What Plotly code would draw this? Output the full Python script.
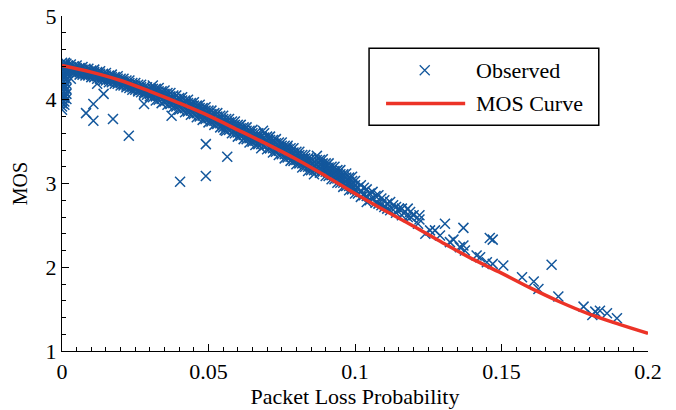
import plotly.graph_objects as go

# ---------------- data ----------------
# fitted MOS curve
curve_x = [0.0, 0.01, 0.02, 0.03, 0.04, 0.05, 0.06, 0.07, 0.08, 0.09, 0.10,
           0.11, 0.12, 0.13, 0.14, 0.15, 0.16, 0.17, 0.18, 0.19, 0.20]
curve_y = [4.41, 4.33, 4.23, 4.10, 3.96, 3.81, 3.64, 3.47, 3.29, 3.09, 2.88,
           2.68, 2.49, 2.29, 2.10, 1.93, 1.75, 1.585, 1.44, 1.32, 1.21]

# observed points at zero loss
zero_x = [0.0] * 14 + [0.0008] * 13 + [0.0015] * 8
zero_y = [4.44, 4.40, 4.36, 4.32, 4.28, 4.24, 4.20, 4.16, 4.12, 4.08, 4.04, 4.00, 3.96, 3.92,
          4.42, 4.38, 4.34, 4.30, 4.26, 4.22, 4.18, 4.14, 4.10, 4.06, 4.02, 3.98, 3.94,
          4.43, 4.37, 4.31, 4.25, 4.19, 4.13, 4.07, 4.01]

# dense band of observations, even positions (x shared by four rows)
band_x = [0.002, 0.004, 0.006, 0.008, 0.010, 0.012, 0.014, 0.016, 0.018, 0.020,
          0.022, 0.024, 0.026, 0.028, 0.030, 0.032, 0.034, 0.036, 0.038, 0.040,
          0.042, 0.044, 0.046, 0.048, 0.050, 0.052, 0.054, 0.056, 0.058, 0.060,
          0.062, 0.064, 0.066, 0.068, 0.070, 0.072, 0.074, 0.076, 0.078, 0.080,
          0.082, 0.084, 0.086, 0.088, 0.090, 0.092, 0.094, 0.096, 0.098, 0.100]
band_row1 = [4.41, 4.40, 4.38, 4.37, 4.35, 4.33, 4.31, 4.29, 4.27, 4.25,
             4.23, 4.20, 4.18, 4.15, 4.12, 4.13, 4.10, 4.08, 4.05, 4.02,
             3.99, 3.96, 3.93, 3.90, 3.87, 3.84, 3.81, 3.77, 3.74, 3.70,
             3.67, 3.63, 3.60, 3.56, 3.56, 3.52, 3.49, 3.45, 3.42, 3.38,
             3.34, 3.30, 3.26, 3.28, 3.24, 3.20, 3.16, 3.11, 3.07, 3.03]
band_row2 = [4.38, 4.37, 4.35, 4.34, 4.32, 4.30, 4.28, 4.26, 4.24, 4.22,
             4.20, 4.17, 4.15, 4.12, 4.09, 4.09, 4.06, 4.04, 4.01, 3.98,
             3.95, 3.92, 3.89, 3.86, 3.83, 3.80, 3.77, 3.73, 3.70, 3.66,
             3.63, 3.59, 3.56, 3.52, 3.51, 3.47, 3.44, 3.40, 3.37, 3.33,
             3.29, 3.25, 3.21, 3.23, 3.19, 3.15, 3.11, 3.06, 3.02, 2.98]
band_row3 = [4.36, 4.34, 4.33, 4.31, 4.30, 4.28, 4.26, 4.24, 4.22, 4.20,
             4.17, 4.15, 4.12, 4.09, 4.07, 4.04, 4.01, 3.99, 3.96, 3.93,
             3.90, 3.87, 3.84, 3.81, 3.78, 3.75, 3.72, 3.68, 3.65, 3.61,
             3.58, 3.54, 3.51, 3.47, 3.46, 3.42, 3.39, 3.35, 3.32, 3.28,
             3.24, 3.20, 3.16, 3.18, 3.14, 3.10, 3.06, 3.01, 2.97, 2.93]
band_row4 = [4.33, 4.32, 4.30, 4.29, 4.27, 4.25, 4.23, 4.21, 4.19, 4.17,
             4.15, 4.12, 4.10, 4.07, 4.04, 3.99, 3.96, 3.94, 3.91, 3.88,
             3.85, 3.82, 3.79, 3.76, 3.73, 3.70, 3.67, 3.63, 3.60, 3.56,
             3.53, 3.49, 3.46, 3.42, 3.41, 3.37, 3.34, 3.30, 3.27, 3.23,
             3.19, 3.15, 3.11, 3.13, 3.09, 3.05, 3.01, 2.96, 2.92, 2.88]

# dense band, odd positions (x shared by four rows)
band2_x = [0.001, 0.003, 0.005, 0.007, 0.009, 0.011, 0.013, 0.015, 0.017, 0.019,
           0.021, 0.023, 0.025, 0.027, 0.029, 0.031, 0.033, 0.035, 0.037, 0.039,
           0.041, 0.043, 0.045, 0.047, 0.049, 0.051, 0.053, 0.055, 0.057, 0.059,
           0.061, 0.063, 0.065, 0.067, 0.069, 0.071, 0.073, 0.075, 0.077, 0.079,
           0.081, 0.083, 0.085, 0.087, 0.089, 0.091, 0.093, 0.095, 0.097, 0.099]
band2_row1 = [4.44, 4.42, 4.41, 4.39, 4.37, 4.36, 4.34, 4.32, 4.30, 4.28,
              4.25, 4.23, 4.20, 4.18, 4.15, 4.17, 4.14, 4.11, 4.08, 4.05,
              4.03, 4.00, 3.97, 3.94, 3.91, 3.87, 3.84, 3.81, 3.77, 3.74,
              3.70, 3.67, 3.64, 3.60, 3.60, 3.56, 3.53, 3.49, 3.45, 3.42,
              3.38, 3.34, 3.30, 3.33, 3.29, 3.24, 3.20, 3.16, 3.12, 3.08]
band2_row2 = [4.41, 4.39, 4.38, 4.36, 4.34, 4.33, 4.31, 4.29, 4.27, 4.25,
              4.22, 4.20, 4.17, 4.15, 4.12, 4.13, 4.10, 4.07, 4.04, 4.01,
              3.99, 3.96, 3.93, 3.90, 3.87, 3.83, 3.80, 3.77, 3.73, 3.70,
              3.66, 3.63, 3.60, 3.56, 3.55, 3.52, 3.48, 3.45, 3.41, 3.37,
              3.34, 3.30, 3.26, 3.28, 3.24, 3.19, 3.15, 3.11, 3.07, 3.03]
band2_row3 = [4.38, 4.36, 4.35, 4.33, 4.31, 4.30, 4.28, 4.26, 4.24, 4.22,
              4.19, 4.17, 4.14, 4.12, 4.09, 4.08, 4.05, 4.03, 4.00, 3.97,
              3.94, 3.91, 3.88, 3.85, 3.82, 3.79, 3.76, 3.72, 3.69, 3.65,
              3.62, 3.58, 3.55, 3.52, 3.50, 3.47, 3.43, 3.40, 3.36, 3.32,
              3.29, 3.25, 3.21, 3.23, 3.19, 3.14, 3.10, 3.06, 3.02, 2.98]
band2_row4 = [4.35, 4.34, 4.32, 4.30, 4.29, 4.27, 4.25, 4.23, 4.21, 4.19,
              4.17, 4.14, 4.12, 4.09, 4.06, 4.03, 4.00, 3.98, 3.95, 3.92,
              3.89, 3.86, 3.83, 3.80, 3.77, 3.74, 3.71, 3.67, 3.64, 3.60,
              3.57, 3.53, 3.50, 3.47, 3.45, 3.42, 3.38, 3.35, 3.31, 3.27,
              3.24, 3.20, 3.16, 3.18, 3.14, 3.09, 3.05, 3.01, 2.97, 2.93]

# thinner region and tail
tail_x = [0.101, 0.101, 0.102, 0.102, 0.102, 0.103, 0.103, 0.104, 0.104, 0.104,
          0.105, 0.105, 0.106, 0.106, 0.107, 0.107, 0.108, 0.108, 0.109, 0.109,
          0.110, 0.110, 0.111, 0.111, 0.112, 0.112, 0.113, 0.114, 0.114, 0.115,
          0.116, 0.116, 0.117, 0.118, 0.118, 0.119, 0.120,
          0.1188, 0.1215, 0.122, 0.122, 0.124, 0.1256, 0.1273, 0.129, 0.1307,
          0.1324, 0.1336, 0.1358, 0.137, 0.137, 0.1375, 0.1415, 0.1427, 0.145, 0.146,
          0.147, 0.147, 0.1506, 0.157, 0.161, 0.1626, 0.1671, 0.1694, 0.178, 0.181,
          0.182, 0.1836, 0.186, 0.1894]
tail_y = [2.95, 2.88, 2.98, 2.90, 2.84, 2.95, 2.86, 2.93, 2.85, 2.78,
          2.88, 2.80, 2.90, 2.82, 2.85, 2.77, 2.86, 2.76, 2.82, 2.74,
          2.80, 2.72, 2.76, 2.70, 2.78, 2.68, 2.74, 2.72, 2.65, 2.70,
          2.70, 2.62, 2.66, 2.70, 2.60, 2.60, 2.62,
          2.66, 2.52, 2.57, 2.62, 2.40, 2.44, 2.44, 2.38, 2.52,
          2.30, 2.33, 2.24, 2.47, 2.26, 2.20, 2.14, 2.12, 2.06, 2.35,
          2.33, 2.04, 2.02, 1.88, 1.83, 1.74, 2.03, 1.65, 1.53, 1.43,
          1.47, 1.48, 1.45, 1.39]

# scattered low outliers
out_x = [0.0, 0.0082, 0.0107, 0.0107, 0.0142, 0.0174, 0.0228, 0.028, 0.0374, 0.0403,
         0.0491, 0.0491, 0.0564, 0.003, 0.012, 0.0555, 0.0686, 0.0768]
out_y = [3.88, 3.84, 3.95, 3.75, 4.07, 3.77, 3.57, 3.95, 3.81, 3.02,
         3.47, 3.09, 3.32, 4.25, 4.19, 3.64, 3.63, 3.43]

x_ticks = [0, 0.05, 0.1, 0.15, 0.2]
x_tick_text = ["0", "0.05", "0.1", "0.15", "0.2"]
y_ticks = [1, 2, 3, 4, 5]
y_tick_text = ["1", "2", "3", "4", "5"]

series_names = ["Observed", "MOS Curve"]

# ---------------- figure ----------------
BLUE = "#13579c"
RED = "#ec3327"
FONT = "Liberation Serif, Times New Roman, serif"

obs_x = (zero_x + band_x * 4 + band2_x * 4 + tail_x + out_x)
obs_y = (zero_y + band_row1 + band_row2 + band_row3 + band_row4
         + band2_row1 + band2_row2 + band2_row3 + band2_row4 + tail_y + out_y)

fig = go.Figure()
fig.add_trace(go.Scatter(
    x=obs_x, y=obs_y, mode="markers", name=series_names[0],
    marker=dict(symbol="x-thin", size=10, line=dict(width=1.5, color=BLUE)),
    showlegend=False,
))
fig.add_trace(go.Scatter(
    x=curve_x, y=curve_y, mode="lines", name=series_names[1],
    line=dict(color=RED, width=3.5, shape="spline"),
    showlegend=False,
))
# legend marker on an overlay axis spanning the plot area (0..1)
fig.add_trace(go.Scatter(
    x=[0.619], y=[0.838], xaxis="x2", yaxis="y2", mode="markers",
    marker=dict(symbol="x-thin", size=10, line=dict(width=1.3, color=BLUE)),
    showlegend=False, hoverinfo="skip",
))

axis_common = dict(
    showline=True, linecolor="black", linewidth=1.3,
    ticks="inside", ticklen=7, tickwidth=1.2, tickcolor="black",
    showgrid=False, zeroline=False, mirror=False, automargin=False,
    ticklabeloverflow="allow",
    tickfont=dict(family=FONT, size=22, color="black"),
)

fig.update_layout(
    width=676, height=410,
    margin=dict(l=62, r=28, t=16, b=59),
    paper_bgcolor="white", plot_bgcolor="white",
    font=dict(family=FONT, size=22, color="black"),
    showlegend=False,
    xaxis=dict(
        range=[0, 0.2], tickmode="array", tickvals=x_ticks, ticktext=x_tick_text,
        minor=dict(dtick=0.005, tick0=0, ticks="inside", ticklen=4,
                   tickwidth=1, tickcolor="black"),
        title=dict(text="Packet Loss Probability", standoff=6,
                   font=dict(family=FONT, size=22)),
        **axis_common,
    ),
    yaxis=dict(
        range=[1, 5], tickmode="array", tickvals=y_ticks, ticktext=y_tick_text,
        minor=dict(dtick=0.2, tick0=1, ticks="inside", ticklen=4,
                   tickwidth=1, tickcolor="black"),
        title=dict(text="MOS", standoff=12, font=dict(family=FONT, size=20)),
        **axis_common,
    ),
    xaxis2=dict(overlaying="x", range=[0, 1], visible=False, fixedrange=True,
                automargin=False),
    yaxis2=dict(overlaying="y", range=[0, 1], visible=False, fixedrange=True,
                automargin=False),
    shapes=[
        dict(type="rect", xref="paper", yref="paper", x0=0.524, x1=0.916,
             y0=0.674, y1=0.9036, line=dict(color="black", width=1.5),
             fillcolor="white", layer="below"),
        dict(type="line", xref="paper", yref="paper", x0=0.553, x1=0.688,
             y0=0.739, y1=0.739, line=dict(color=RED, width=3.5)),
    ],
    annotations=[
        dict(text=series_names[0], xref="paper", yref="paper", x=0.703, y=0.838,
             xanchor="left", yanchor="middle", showarrow=False,
             font=dict(family=FONT, size=22, color="black")),
        dict(text=series_names[1], xref="paper", yref="paper", x=0.703, y=0.739,
             xanchor="left", yanchor="middle", showarrow=False,
             font=dict(family=FONT, size=22, color="black")),
    ],
)

# remove the default page margin so the figure fills the window exactly
fig.write_html("out.html",
               config={"displayModeBar": False},
               post_script="document.body.style.margin='0';"
                           "document.body.style.overflow='hidden';")
